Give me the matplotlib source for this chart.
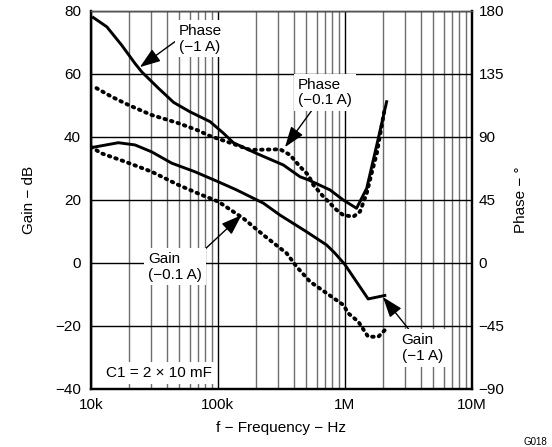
import matplotlib
matplotlib.use("Agg")
import matplotlib.pyplot as plt
from matplotlib.ticker import FixedLocator, LogLocator, NullFormatter

plt.rcParams['font.family'] = ['Liberation Sans', 'DejaVu Sans']

# ---- data ----
# Gain (dB), -1 A, solid
f_gain_1a = [10e3, 16.5e3, 22.3e3, 30.2e3, 43.5e3, 66e3, 101e3, 141e3, 229e3, 310e3,
             502e3, 722e3, 839e3, 1.0e6, 1.53e6, 2.07e6]
gain_1a = [36.5, 38.1, 37.4, 35.2, 31.6, 28.9, 25.7, 23.1, 18.9, 15.1,
           9.8, 5.6, 3.0, -0.5, -11.5, -10.4]

# Gain (dB), -0.1 A, dotted
f_gain_01a = [10e3, 12.2e3, 18.6e3, 30.2e3, 49e3, 70e3, 101e3, 159e3, 229e3, 349e3,
              419e3, 533e3, 722e3, 975e3, 1.07e6, 1.28e6, 1.53e6, 1.84e6, 2.07e6]
gain_01a = [36.8, 34.7, 32.1, 28.9, 24.7, 22.0, 19.4, 14.1, 8.8, 3.0,
            -1.3, -6.0, -9.7, -13.4, -16.1, -18.7, -23.5, -23.5, -21.4]

# Phase (deg), -1 A, solid
f_phase_1a = [10.5e3, 13.4e3, 17.5e3, 22.3e3, 25.2e3, 34.1e3, 45e3, 60.5e3, 87e3, 111e3,
              133e3, 203e3, 329e3, 445e3, 517e3, 766e3, 975e3, 1.24e6, 1.49e6, 1.68e6,
              1.84e6, 2.14e6]
phase_1a = [175.1, 168.5, 155.5, 142.4, 136.4, 124.7, 114.5, 107.8, 100.8, 92.5,
            85.7, 78.0, 69.8, 61.4, 59.2, 52.0, 44.8, 38.9, 53.1, 73.4,
            88.9, 115.0]

# Phase (deg), -0.1 A, dotted
f_phase_01a = [11.1e3, 14.6e3, 19.8e3, 30.2e3, 49e3, 70e3, 87e3, 125e3, 180e3, 310e3,
               371e3, 445e3, 517e3, 566e3, 678e3, 865e3, 975e3, 1.17e6, 1.32e6, 1.49e6,
               1.63e6, 1.79e6, 2.07e6]
phase_01a = [124.7, 118.6, 112.7, 105.5, 99.7, 94.5, 90.5, 85.7, 80.6, 81.0,
             77.0, 68.6, 62.6, 55.6, 47.3, 37.6, 34.0, 32.9, 36.5, 49.5,
             63.9, 78.1, 110.3]

gain_ticks = [-40, -20, 0, 20, 40, 60, 80]
gain_labels = ['\u221240', '\u221220', '0', '20', '40', '60', '80']
phase_ticks = [-90, -45, 0, 45, 90, 135, 180]
phase_labels = ['\u221290', '\u221245', '0', '45', '90', '135', '180']
freq_ticks = [1e4, 1e5, 1e6, 1e7]
freq_labels = ['10k', '100k', '1M', '10M']

fig = plt.figure(figsize=(5.52, 4.47), dpi=100)
ax = fig.add_axes([0.1643, 0.1304, 0.6902, 0.8456])
ax2 = ax.twinx()

ax.set_xscale('log')
ax.set_xlim(1e4, 1e7)
ax.set_ylim(-40, 80)
ax2.set_ylim(-90, 180)

ax.xaxis.set_major_locator(FixedLocator(freq_ticks))
ax.set_xticklabels(freq_labels)
ax.xaxis.set_minor_locator(LogLocator(base=10, subs=range(2, 10)))
ax.xaxis.set_minor_formatter(NullFormatter())
ax.set_yticks(gain_ticks)
ax.set_yticklabels(gain_labels)
ax2.set_yticks(phase_ticks)
ax2.set_yticklabels(phase_labels)

ax.grid(which='minor', axis='x', color='#6e6e6e', lw=1.0)
ax.grid(which='major', axis='x', color='black', lw=1.0)
ax.grid(which='major', axis='y', color='black', lw=1.0)
ax.set_axisbelow(True)

ax.tick_params(which='both', length=0, labelsize=11)
ax.tick_params(axis='y', pad=7)
ax.tick_params(axis='x', pad=7)
ax2.tick_params(length=0, labelsize=11, pad=5)

for a in (ax, ax2):
    for s in ('left', 'right', 'bottom'):
        a.spines[s].set_linewidth(1.6)
    a.spines['top'].set_linewidth(1.0)
    a.spines['top'].set_color('#555555')

ax.set_ylabel('Gain \u2212 dB', fontsize=11, labelpad=14)
ax2.set_ylabel('Phase \u2212 \u00b0', fontsize=11, labelpad=7, rotation=90)
ax.set_xlabel('f \u2212 Frequency \u2212 Hz', fontsize=11, labelpad=6)

dots = (0, (0.4, 1.35))
ax.plot(f_gain_1a, gain_1a, color='black', lw=2.1)
ax.plot(f_gain_01a, gain_01a, color='black', lw=2.8, ls=dots, dash_capstyle='round')
ax2.plot(f_phase_1a, phase_1a, color='black', lw=2.1)
ax2.plot(f_phase_01a, phase_01a, color='black', lw=2.8, ls=dots, dash_capstyle='round')

arrow = dict(arrowstyle='-|>,head_length=0.9,head_width=0.32', color='black',
             lw=1.0, mutation_scale=14, shrinkA=0, shrinkB=0)
box = dict(boxstyle='square,pad=0.25', fc='white', ec='none')

notes = [
    ('Phase\n(\u22121 A)', (24.4e3, 62.1), (49.5e3, 75.8), (0.0, 0.5)),
    ('Phase\n(\u22120.1 A)', (339e3, 36.7), (429e3, 58.8), (0.3, 0.0)),
    ('Gain\n(\u22120.1 A)', (154e3, 15.1), (28.3e3, 3.4), (1.0, 1.0)),
    ('Gain\n(\u22121 A)', (2.0e6, -10.9), (2.81e6, -22.4), (0.25, 1.0)),
]
for txt, tip, pos, rel in notes:
    ax2.annotate(txt, xy=tip, xycoords=ax.transData, xytext=pos,
                 textcoords=ax.transData, ha='left', va='top', fontsize=11,
                 linespacing=1.15, bbox=box,
                 arrowprops=dict(arrow, relpos=rel), zorder=5)

ax2.text(13.2e3, -35, 'C1 = 2 \u00d7 10 mF', transform=ax.transData, ha='left',
         va='center', fontsize=11, bbox=box, zorder=5)

fig.text(535 / 552, 5 / 447, 'G018', ha='center', va='center', fontsize=7)

fig.savefig('out.png', dpi=100)
